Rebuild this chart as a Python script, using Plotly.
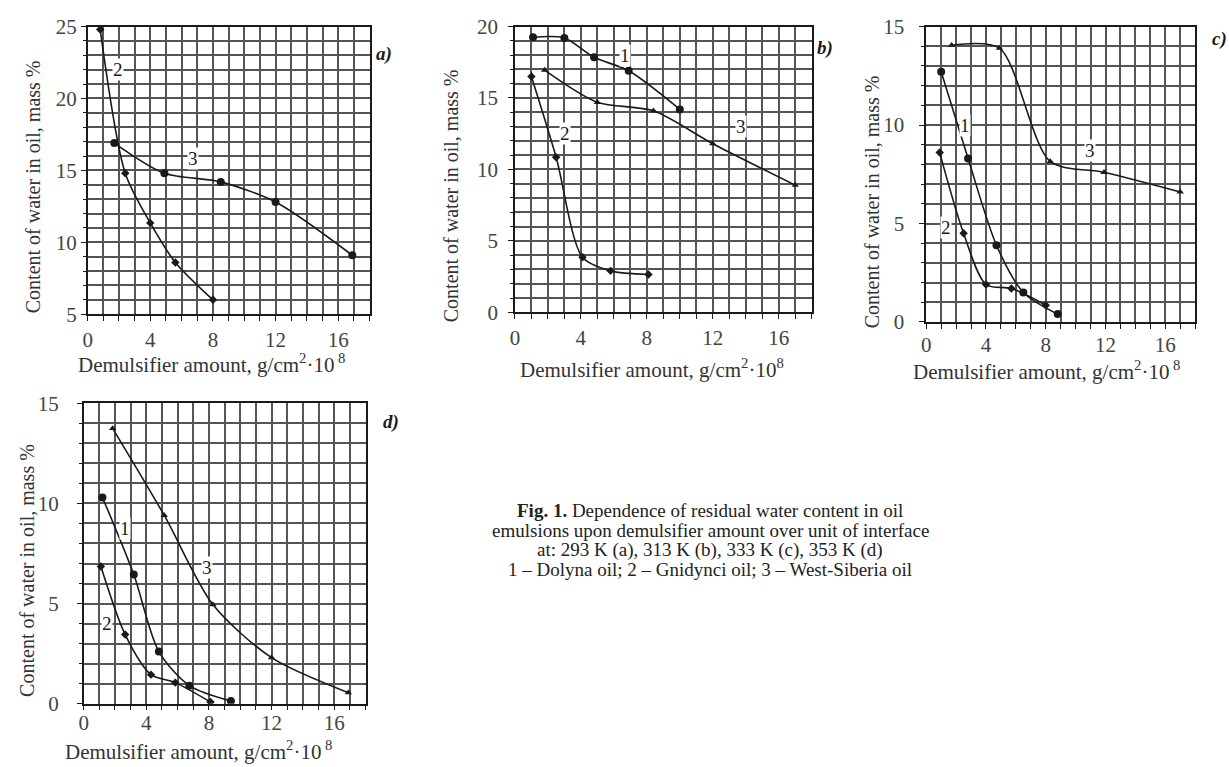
import plotly.graph_objects as go

W, H = 1229, 767

# ---- data: residual water content vs demulsifier amount ----
# (a) 293 K
a_x2 = [0.8, 2.4, 4.0, 5.6, 8.0]
a_y2 = [24.8, 14.8, 11.35, 8.6, 6.0]
a_x3 = [1.7, 4.9, 8.5, 12.0, 16.9]
a_y3 = [16.9, 14.8, 14.2, 12.8, 9.1]

# (b) 313 K
b_x1 = [1.1, 3.0, 4.8, 6.9, 10.0]
b_y1 = [19.25, 19.2, 17.85, 16.9, 14.2]
b_x2 = [1.0, 2.5, 4.1, 5.8, 8.1]
b_y2 = [16.5, 10.85, 3.85, 2.9, 2.65]
b_x3 = [1.8, 5.0, 8.4, 12.0, 17.0]
b_y3 = [16.95, 14.7, 14.1, 11.8, 8.9]

# (c) 333 K
c_x1 = [1.0, 2.8, 4.7, 6.5, 8.8]
c_y1 = [12.7, 8.3, 3.9, 1.5, 0.4]
c_x2 = [0.9, 2.5, 4.0, 5.7, 8.0]
c_y2 = [8.6, 4.5, 1.9, 1.7, 0.85]
c_x3 = [1.7, 4.9, 8.3, 11.9, 17.0]
c_y3 = [14.05, 13.9, 8.15, 7.6, 6.6]

# (d) 353 K
d_x1 = [1.2, 3.2, 4.8, 6.75, 9.4]
d_y1 = [10.3, 6.45, 2.6, 0.9, 0.13]
d_x2 = [1.1, 2.65, 4.3, 5.85, 8.1]
d_y2 = [6.85, 3.45, 1.45, 1.05, 0.08]
d_x3 = [1.85, 5.15, 8.25, 12.0, 16.9]
d_y3 = [13.75, 9.4, 4.95, 2.3, 0.55]

x_ticks = [0, 4, 8, 12, 16]
y_ticks = {"a": [5, 10, 15, 20, 25], "b": [0, 5, 10, 15, 20],
           "c": [0, 5, 10, 15], "d": [0, 5, 10, 15]}
y_ranges = {"a": [5, 25], "b": [0, 20], "c": [0, 15], "d": [0, 15]}

# curve number labels: (panel, text, x, y)
curve_labels = [
    ("a", "2", 1.95, 22.0), ("a", "3", 6.7, 15.8),
    ("b", "1", 6.7, 18.0), ("b", "2", 3.05, 12.5), ("b", "3", 13.7, 13.0),
    ("c", "1", 2.6, 10.0), ("c", "2", 1.35, 4.8), ("c", "3", 10.95, 8.7),
    ("d", "1", 2.65, 8.75), ("d", "2", 1.5, 4.0), ("d", "3", 7.9, 6.8),
]

FONT = "Liberation Serif, Times New Roman, serif"
INK = "#1a1a1a"
GRID = "#555555"

# panel boxes in pixels: left, right, top, bottom
boxes = {"a": (83, 366, 15, 312), "b": (512, 810, 15, 310),
         "c": (925, 1195, 15, 320), "d": (79, 362, 404, 714)}
axis_ids = {"a": "", "b": "2", "c": "3", "d": "4"}
label_gap = {"a": 0, "b": 6, "c": 11, "d": 14}
xlabel_gap = {"a": 1, "b": 1, "c": -2, "d": -6}

fig = go.Figure()

series = {
    "a": [(a_x2, a_y2, "diamond"), (a_x3, a_y3, "circle")],
    "b": [(b_x1, b_y1, "circle"), (b_x2, b_y2, "diamond"), (b_x3, b_y3, "triangle-up")],
    "c": [(c_x1, c_y1, "circle"), (c_x2, c_y2, "diamond"), (c_x3, c_y3, "triangle-up")],
    "d": [(d_x1, d_y1, "circle"), (d_x2, d_y2, "diamond"), (d_x3, d_y3, "triangle-up")],
}

for p, lst in series.items():
    sid = axis_ids[p]
    for xs, ys, sym in lst:
        fig.add_trace(go.Scatter(
            x=xs, y=ys, mode="lines+markers",
            xaxis="x" + sid, yaxis="y" + sid,
            line=dict(color=INK, width=1.6, shape="spline", smoothing=0.8),
            marker=dict(symbol=sym, size=8 if sym == "circle" else 6.5, color=INK),
            showlegend=False, hoverinfo="skip"))

layout = dict(width=W, height=H, margin=dict(l=0, r=0, t=0, b=0),
              paper_bgcolor="white", plot_bgcolor="white", showlegend=False)

for p, (l, r, t, b) in boxes.items():
    sid = axis_ids[p]
    xa = dict(domain=[l / W, r / W], range=[0, 18], tickvals=x_ticks,
              ticks="outside", ticklen=5, tickwidth=1.2, tickcolor=INK,
              showline=True, mirror=True, linecolor=INK, linewidth=1.6,
              showgrid=True, gridcolor=GRID, gridwidth=1.5, zeroline=False,
              ticklabelstandoff=xlabel_gap[p],
              tickfont=dict(family=FONT, size=21, color="#444"),
              minor=dict(dtick=1, ticks="outside", ticklen=5, tickcolor=INK,
                         showgrid=True, gridcolor=GRID, gridwidth=1.5),
              anchor="y" + sid, fixedrange=True)
    ya = dict(domain=[1 - b / H, 1 - t / H], range=y_ranges[p], tickvals=y_ticks[p],
              ticks="outside", ticklen=5, tickwidth=1.2, tickcolor=INK,
              showline=True, mirror=True, linecolor=INK, linewidth=1.6,
              showgrid=True, gridcolor=GRID, gridwidth=1.5, zeroline=False,
              ticklabelstandoff=label_gap[p],
              tickfont=dict(family=FONT, size=21, color="#444"),
              minor=dict(dtick=1, ticks="outside", ticklen=3, tickcolor=INK,
                         showgrid=True, gridcolor=GRID, gridwidth=1.5),
              anchor="x" + sid, fixedrange=True)
    layout["xaxis" + sid] = xa
    layout["yaxis" + sid] = ya

fig.update_layout(**layout)

ann = []
for p, txt, x, y in curve_labels:
    sid = axis_ids[p]
    ann.append(dict(text=txt, x=x, y=y, xref="x" + sid, yref="y" + sid,
                    xanchor="center", yanchor="middle",
                    showarrow=False, bgcolor="white", borderpad=0,
                    font=dict(family=FONT, size=19, color=INK)))


def px(x, y):
    return x / W, 1 - y / H


def paper_text(txt, x, y, size, color, angle=0, yanchor="middle"):
    xx, yy = px(x, y)
    return dict(text=txt, x=xx, y=yy, xref="paper", yref="paper",
                xanchor="center", yanchor=yanchor, textangle=angle,
                showarrow=False, borderpad=0,
                font=dict(family=FONT, size=size, color=color))


# panel letters
for txt, x, y in [("a)", 381, 43), ("b)", 823, 37), ("c)", 1219, 28), ("d)", 388, 423)]:
    ann.append(paper_text("<b><i>" + txt + "</i></b>", x, y, 19, INK))

ytitle = "Content of water in oil, mass %"
xt_sp = "Demulsifier amount, g/cm<sup>2</sup>·10<sup> 8</sup>"
xt_ns = "Demulsifier amount, g/cm<sup>2</sup>·10<sup>8</sup>"
for x, y in [(28, 180), (448, 190), (870, 196), (22, 576)]:
    ann.append(paper_text(ytitle, x, y, 20, "#333", -90))
for txt, x, y in [(xt_sp, 207, 363), (xt_ns, 650, 368), (xt_sp, 1046, 370), (xt_sp, 194, 762)]:
    ann.append(paper_text(txt, x, y, 21, "#333"))

caption = [
    "<b>Fig. 1.</b> Dependence of residual water content in oil",
    "emulsions upon demulsifier amount over unit of interface",
    "at: 293 K (a), 313 K (b), 333 K (c), 353 K (d)",
    "1 – Dolyna oil; 2 – Gnidynci oil; 3 – West-Siberia oil",
]
for i, line in enumerate(caption):
    ann.append(paper_text(line, 708, 515 + 20 * i, 19, "#222"))

fig.update_layout(annotations=ann)
fig.write_html("out.html")
